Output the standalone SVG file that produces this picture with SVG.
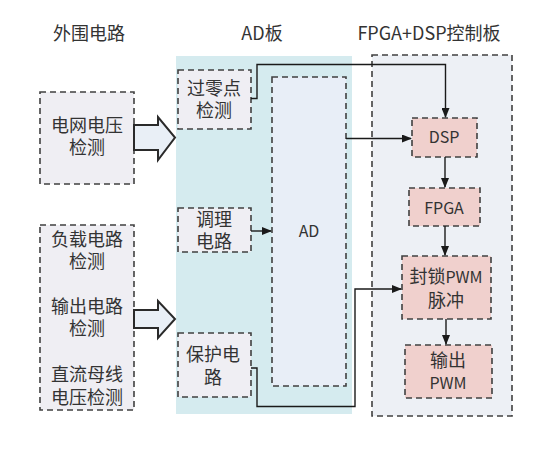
<svg xmlns="http://www.w3.org/2000/svg" width="552" height="459" viewBox="0 0 552 459">
<defs>
<style>
text{font-family:"Noto Sans CJK SC","Noto Sans",sans-serif;font-size:18px;fill:#333;text-anchor:middle}
.lat{font-size:16px}
.box{stroke:#404040;stroke-width:1.6;stroke-dasharray:6,4}
.grey{fill:#efeef3}
.pink{fill:#f0d0cd}
.ad{fill:#e8eef7}
.panel{fill:#edf0f5}
.wire{fill:none;stroke:#1a1a1a;stroke-width:1.4}
.big{fill:#e9eff6;stroke:#2a2a2a;stroke-width:2;stroke-linejoin:miter}
</style>
<marker id="ah" markerWidth="10" markerHeight="8" refX="9" refY="4" orient="auto" markerUnits="userSpaceOnUse">
<path d="M0,0 L10,4 L0,8 Z" fill="#1a1a1a"/>
</marker>
</defs>
<rect width="552" height="459" fill="#fff"/>

<text x="89" y="40">外围电路</text>
<text x="262" y="40">AD板</text>
<text x="429" y="40">FPGA+DSP控制板</text>

<rect id="adboard" x="176" y="56" width="176" height="358" fill="#d5ebef"/>
<rect id="ctrlboard" class="box panel" x="372" y="55" width="140" height="361"/>

<g id="grid-voltage">
<rect class="box grey" x="40" y="92" width="94" height="92"/>
<text x="87" y="132">电网电压</text>
<text x="87" y="154">检测</text>
</g>
<g id="load-detect">
<rect class="box grey" x="40" y="225" width="94" height="185"/>
<text x="87" y="246">负载电路</text>
<text x="87" y="268">检测</text>
<text x="87" y="313">输出电路</text>
<text x="87" y="335">检测</text>
<text x="87" y="381">直流母线</text>
<text x="87" y="404">电压检测</text>
</g>
<g id="zero-cross">
<rect class="box grey" x="178" y="70" width="73" height="59"/>
<text x="214" y="95">过零点</text>
<text x="214" y="117">检测</text>
</g>
<g id="conditioning">
<rect class="box grey" x="178" y="208" width="73" height="44"/>
<text x="214" y="226">调理</text>
<text x="214" y="248">电路</text>
</g>
<g id="protection">
<rect class="box grey" x="178" y="333" width="73" height="64"/>
<text x="213" y="361">保护电</text>
<text x="213" y="384">路</text>
</g>
<g id="ad">
<rect class="box ad" x="272" y="77" width="74" height="309"/>
<text class="lat" x="309" y="237">AD</text>
</g>
<g id="dsp">
<rect class="box pink" x="412" y="118" width="65" height="39"/>
<text class="lat" x="444" y="143">DSP</text>
</g>
<g id="fpga">
<rect class="box pink" x="409" y="188" width="71" height="38"/>
<text class="lat" x="444" y="214">FPGA</text>
</g>
<g id="lock-pwm">
<rect class="box pink" x="402" y="256" width="89" height="63"/>
<text x="446" y="283">封锁<tspan class="lat">PWM</tspan></text>
<text x="446" y="307">脉冲</text>
</g>
<g id="out-pwm">
<rect class="box pink" x="405" y="345" width="87" height="53"/>
<text x="448" y="367">输出</text>
<text class="lat" x="448" y="389">PWM</text>
</g>

<g id="connectors">
<polygon class="big" points="134,125 158,125 158,117 175,137.5 158,160 158,150 134,150"/>
<polygon class="big" points="134,310 158,310 158,301 175,319 158,338 158,328 134,328"/>
<path class="wire" d="M251,98.5 H257 V64.5 H445.5 V117" marker-end="url(#ah)"/>
<path class="wire" d="M346,138.5 H411" marker-end="url(#ah)"/>
<path class="wire" d="M251,231 H271" marker-end="url(#ah)"/>
<path class="wire" d="M251,368 H257 V406.5 H355 V289 H401" marker-end="url(#ah)"/>
<path class="wire" d="M445,157 V187" marker-end="url(#ah)"/>
<path class="wire" d="M445,226 V255" marker-end="url(#ah)"/>
<path class="wire" d="M446,319 V344" marker-end="url(#ah)"/>
</g>
</svg>
